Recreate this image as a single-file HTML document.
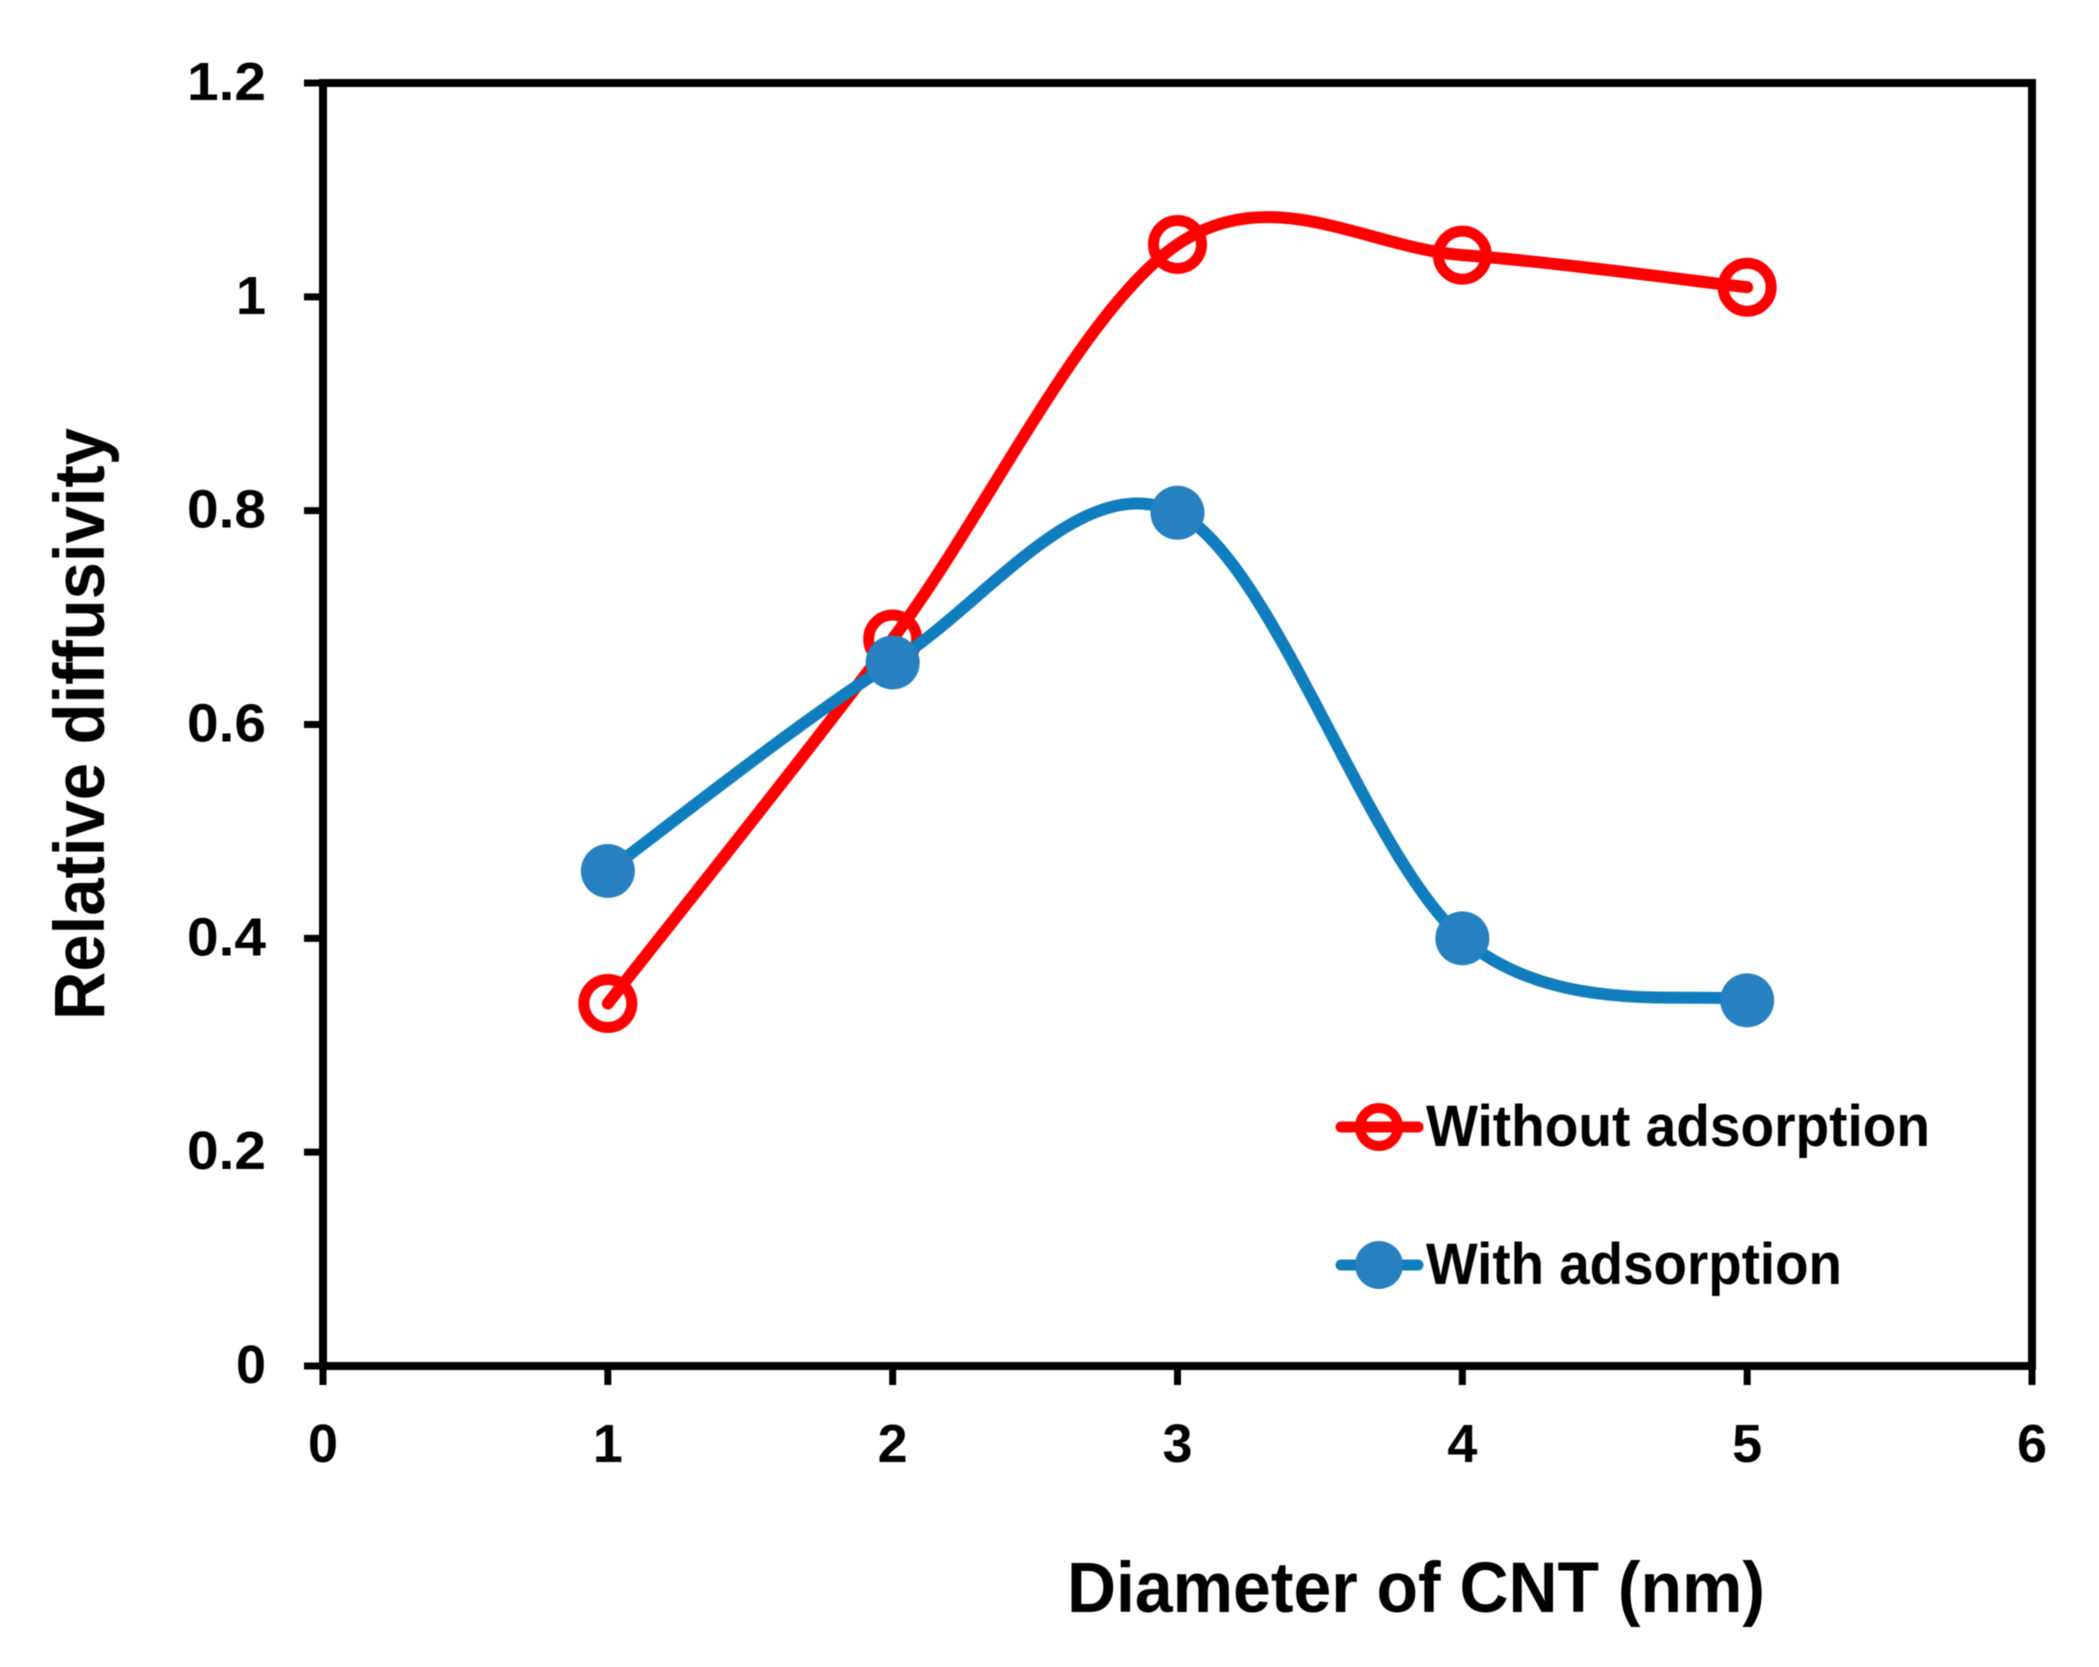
<!DOCTYPE html>
<html lang="en">
<head>
<meta charset="utf-8">
<title>Relative diffusivity vs CNT diameter</title>
<style>
html,body{margin:0;padding:0;background:#fff;}
svg{display:block;filter:blur(0.6px);}
text{font-family:"Liberation Sans",sans-serif;font-weight:bold;fill:#000;}
</style>
</head>
<body>
<svg id="chart" xmlns="http://www.w3.org/2000/svg" width="2099" height="1667" viewBox="0 0 2099 1667">
  <rect x="0" y="0" width="2099" height="1667" fill="#ffffff"/>
  <g id="axes"></g>
  <g id="series"></g>
  <g id="legend"></g>
  <text x="1067" y="1612" font-size="71" textLength="698" lengthAdjust="spacingAndGlyphs">Diameter of CNT (nm)</text>
  <text transform="translate(104,1020) rotate(-90)" font-size="71" textLength="592" lengthAdjust="spacingAndGlyphs">Relative diffusivity</text>
</svg>
<script>
const xCategories = [1, 2, 3, 4, 5];
const withoutAdsorption = [0.339, 0.68, 1.049, 1.039, 1.009];
const withAdsorption = [0.463, 0.658, 0.798, 0.4, 0.342];
const xTickLabels = ['0', '1', '2', '3', '4', '5', '6'];
const yTickLabels = ['0', '0.2', '0.4', '0.6', '0.8', '1', '1.2'];

const NS = 'http://www.w3.org/2000/svg';
const plot = { left: 323, right: 2032, top: 83, bottom: 1366 };
const xMax = 6;
const yMax = 1.2;
const xScale = v => plot.left + (v / xMax) * (plot.right - plot.left);
const yScale = v => plot.bottom - (v / yMax) * (plot.bottom - plot.top);

function make(tag, parent, attrs) {
  const el = document.createElementNS(NS, tag);
  Object.keys(attrs).forEach(k => el.setAttribute(k, attrs[k]));
  parent.appendChild(el);
  return el;
}

function smoothPath(xs, ys) {
  const pts = xs.map((x, i) => [xScale(x), yScale(ys[i])]);
  let d = 'M' + pts[0][0] + ' ' + pts[0][1];
  for (let i = 0; i < pts.length - 1; i++) {
    const p0 = pts[Math.max(i - 1, 0)];
    const p1 = pts[i];
    const p2 = pts[i + 1];
    const p3 = pts[Math.min(i + 2, pts.length - 1)];
    const c1x = p1[0] + (p2[0] - p0[0]) / 6;
    const c1y = p1[1] + (p2[1] - p0[1]) / 6;
    const c2x = p2[0] - (p3[0] - p1[0]) / 6;
    const c2y = p2[1] - (p3[1] - p1[1]) / 6;
    d += ' C' + c1x + ' ' + c1y + ' ' + c2x + ' ' + c2y + ' ' + p2[0] + ' ' + p2[1];
  }
  return d;
}

const axes = document.getElementById('axes');
const seriesGroup = document.getElementById('series');
const legend = document.getElementById('legend');
const AXIS_W = 8;
const TICK_LEN = 19;

const frame = make('rect', axes, { x: plot.left, y: plot.top, width: plot.right - plot.left, height: plot.bottom - plot.top, fill: 'none', stroke: '#000', 'stroke-width': AXIS_W });



xTickLabels.forEach(label => {
  const x = xScale(Number(label));
  const tick = make('line', axes, { x1: x, x2: x, y1: plot.bottom, y2: plot.bottom + TICK_LEN, stroke: '#000', 'stroke-width': AXIS_W - 1 });
  
  
  const text = make('text', axes, { x: x, y: 1462, 'font-size': 54, 'text-anchor': 'middle', textLength: 30, lengthAdjust: 'spacingAndGlyphs' });
  
  
  text.textContent = label;
});

yTickLabels.forEach(label => {
  const y = yScale(Number(label));
  const tick = make('line', axes, { x1: plot.left - TICK_LEN, x2: plot.left, y1: y, y2: y, stroke: '#000', 'stroke-width': AXIS_W - 1 });
  
  
  const w = label.length === 3 ? 79 : 30;
  const text = make('text', axes, { x: 266 - w, y: y + 17, 'font-size': 54, textLength: w, lengthAdjust: 'spacingAndGlyphs' });
  
  
  text.textContent = label;
});

const redLine = make('path', seriesGroup, { d: smoothPath(xCategories, withoutAdsorption), fill: 'none', stroke: '#ff0000', 'stroke-width': 12, 'stroke-linecap': 'round' });


xCategories.forEach((c, i) => {
  const m = make('circle', seriesGroup, { cx: xScale(c), cy: yScale(withoutAdsorption[i]), r: 24, fill: 'none', stroke: '#ff0000', 'stroke-width': 11 });
  
  
});

const blueLine = make('path', seriesGroup, { d: smoothPath(xCategories, withAdsorption), fill: 'none', stroke: '#0f7dbe', 'stroke-width': 12, 'stroke-linecap': 'round' });


xCategories.forEach((c, i) => {
  const m = make('circle', seriesGroup, { cx: xScale(c), cy: yScale(withAdsorption[i]), r: 27, fill: '#2780c0' });
  
  
});

const legendRedLine = make('line', legend, { x1: 1341, x2: 1418, y1: 1127, y2: 1127, stroke: '#ff0000', 'stroke-width': 11, 'stroke-linecap': 'round' });


const legendRedMarker = make('circle', legend, { cx: 1379, cy: 1127, r: 19, fill: 'none', stroke: '#ff0000', 'stroke-width': 10 });


const legendRedText = make('text', legend, { x: 1426, y: 1146, 'font-size': 58, textLength: 504, lengthAdjust: 'spacingAndGlyphs' });


legendRedText.textContent = 'Without adsorption';

const legendBlueLine = make('line', legend, { x1: 1341, x2: 1418, y1: 1265, y2: 1265, stroke: '#0f7dbe', 'stroke-width': 11, 'stroke-linecap': 'round' });


const legendBlueMarker = make('circle', legend, { cx: 1379, cy: 1265, r: 24, fill: '#2780c0' });


const legendBlueText = make('text', legend, { x: 1426, y: 1284, 'font-size': 58, textLength: 416, lengthAdjust: 'spacingAndGlyphs' });


legendBlueText.textContent = 'With adsorption';
</script>
</body>
</html>
